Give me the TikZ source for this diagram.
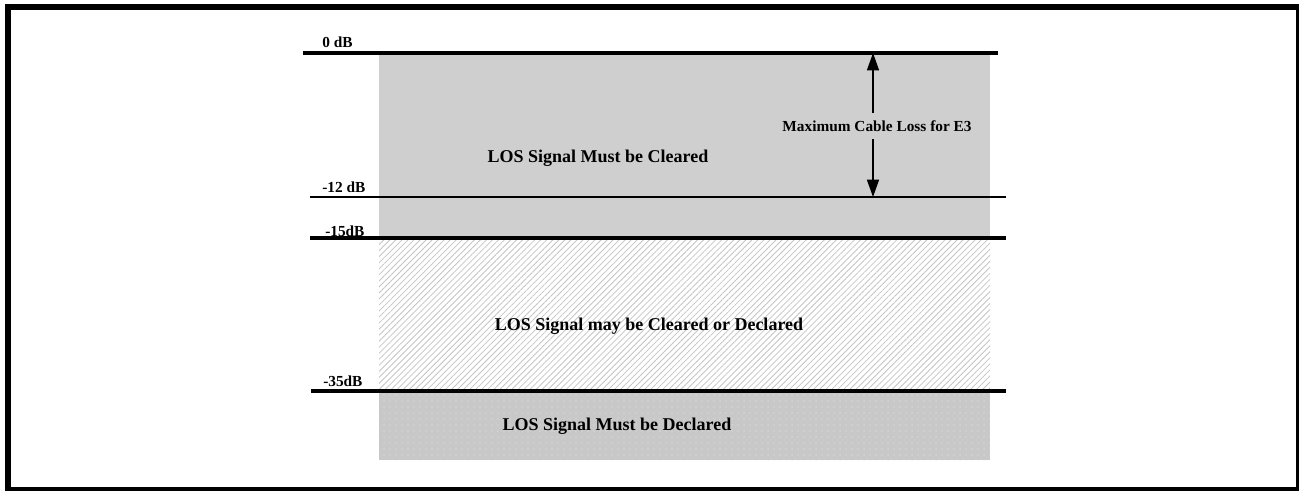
\documentclass[tikz,border=0pt]{standalone}
\usepackage{fontspec}
\setmainfont{Liberation Serif}
\usetikzlibrary{arrows.meta,patterns.meta}
\definecolor{bandGray}{RGB}{207,207,207}
\definecolor{dotBase}{RGB}{200,200,200}
\definecolor{dotLight}{RGB}{228,228,228}
\definecolor{hatchGray}{RGB}{196,196,196}
\tikzstyle{levelLine}=[line width=2.3pt]
\tikzstyle{thinLevelLine}=[line width=1.1pt]
\tikzstyle{levelLabel}=[anchor=base west, inner sep=0pt, font=\fontsize{11.5}{13}\selectfont\bfseries]
\tikzstyle{bandLabel}=[anchor=base, inner sep=0pt, font=\fontsize{13.5}{15}\selectfont\bfseries]

\begin{document}
\begin{tikzpicture}[x=0.75pt, y=-0.75pt]
\tikzstyle{capArrow}=[line width=1.1pt, -{Triangle[length=13pt, width=9pt]}]
\useasboundingbox (0,0) rectangle (1299,491);
\draw[line width=4.5pt] (8,7) rectangle (1299,490);
% bands
\fill[bandGray] (379,53) rectangle (990,238);
\fill[pattern={Lines[angle=45, distance=3.2pt, line width=0.6pt]}, pattern color=hatchGray] (379,238) rectangle (990,391);
\fill[dotBase] (379,391) rectangle (990,460);
\fill[pattern={Dots[distance=4.5pt, radius=0.55pt]}, pattern color=dotLight] (379,391) rectangle (990,460);
% level lines
\coordinate (l0a) at (303,53);
\coordinate (l0b) at (998,53);
\coordinate (l12a) at (310,197);
\coordinate (l12b) at (1006,197);
\coordinate (l15a) at (310,238);
\coordinate (l15b) at (1006,238);
\coordinate (l35a) at (311,391);
\coordinate (l35b) at (1006,391);
\draw[levelLine] (l0a) -- (l0b);
\draw[thinLevelLine] (l12a) -- (l12b);
\draw[levelLine] (l15a) -- (l15b);
\draw[levelLine] (l35a) -- (l35b);
\node[levelLabel] (db0) at (322,48) {0 dB};
\node[levelLabel] (db12) at (322,193) {-12 dB};
\node[levelLabel] (db15) at (325,237) {-15dB};
\node[levelLabel] (db35) at (323,387) {-35dB};
% band texts
\node[bandLabel] (cleared) at (598,163) {LOS Signal Must be Cleared};
\node[bandLabel] (mayBe) at (649,331) {LOS Signal may be Cleared or Declared};
\node[bandLabel] (declared) at (617,431) {LOS Signal Must be Declared};
% cable loss
\coordinate (capTop) at (873,53);
\coordinate (capBottom) at (873,197);
\node[font=\fontsize{11.5}{13}\selectfont\bfseries, inner xsep=0pt, inner ysep=5.5pt] (maxLoss) at (877,126) {Maximum Cable Loss for E3};
\draw[capArrow] (maxLoss.north -| capTop) -- (capTop);
\draw[capArrow] (maxLoss.south -| capBottom) -- (capBottom);
\end{tikzpicture}
\end{document}
